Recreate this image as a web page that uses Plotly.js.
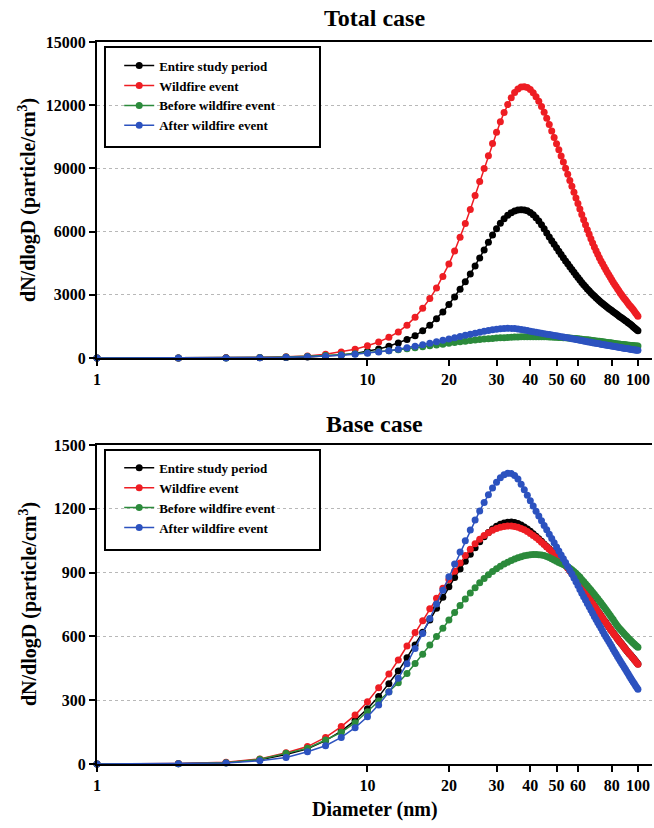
<!DOCTYPE html>
<html>
<head>
<meta charset="utf-8">
<script src="https://cdn.plot.ly/plotly-3.0.1.min.js"></script>
<style>html,body{margin:0;padding:0;background:#fff;}#chart{width:654px;height:828px;}</style>
</head>
<body>
<div id="chart"></div>
<script>
// Diameter (nm)
const diameter = [1,2,3,4,5,6,7,8,9,10,11,12,13,14,15,16,17,18,19,20,21,22,23,24,25,26,27,28,29,30,31,32,33,34,35,36,37,38,39,40,41,42,43,44,45,46,47,48,49,50,51,52,53,54,55,56,57,58,59,60,61,62,63,64,65,66,67,68,69,70,71,72,73,74,75,76,77,78,79,80,81,82,83,84,85,86,87,88,89,90,91,92,93,94,95,96,97,98,99,100];

const seriesNames = ["Entire study period", "Wildfire event", "Before wildfire event", "After wildfire event"];

// Total case
const totalEntire = [1,3,7,14,28,50,85,140,220,320,430,560,710,880,1060,1290,1560,1860,2190,2540,2900,3260,3620,3990,4370,4750,5130,5500,5840,6140,6400,6610,6780,6900,6980,7020,7040,7030,6990,6910,6800,6660,6500,6320,6130,5940,5750,5570,5400,5230,5070,4910,4760,4610,4470,4330,4200,4070,3940,3820,3700,3590,3480,3380,3280,3190,3100,3020,2940,2860,2790,2720,2650,2590,2530,2470,2410,2350,2300,2250,2200,2150,2100,2050,2000,1950,1910,1860,1820,1770,1730,1680,1640,1590,1540,1490,1440,1390,1340,1290];
const totalWildfire = [2,6,14,28,55,100,180,290,420,580,760,980,1240,1560,1940,2360,2820,3320,3870,4460,5080,5730,6390,7050,7710,8380,9000,9600,10180,10720,11210,11650,12030,12350,12600,12770,12860,12880,12840,12740,12590,12400,12190,11940,11670,11380,11080,10780,10470,10170,9880,9590,9300,9010,8720,8430,8150,7870,7600,7330,7070,6810,6560,6320,6090,5870,5660,5460,5270,5090,4920,4760,4610,4470,4330,4200,4070,3950,3830,3710,3600,3490,3390,3290,3190,3090,3000,2910,2830,2750,2670,2590,2510,2440,2370,2300,2220,2140,2060,1980];
const totalBefore = [0,1,6,23,52,76,116,153,200,253,305,350,393,439,487,531,577,617,657,697,733,767,799,828,854,878,898,917,932,946,958,968,977,986,993,999,1004,1008,1011,1014,1015,1015,1014,1012,1009,1005,1000,994,988,982,976,971,966,961,955,948,940,932,924,915,905,894,884,873,863,853,843,832,822,812,801,791,781,770,760,750,740,729,719,709,699,688,678,668,660,653,646,639,631,624,617,611,605,598,592,586,581,576,571,565];
const totalAfter = [0,1,5,15,32,60,89,129,176,228,286,348,415,486,559,632,704,774,841,906,968,1027,1081,1133,1181,1226,1267,1304,1337,1365,1386,1401,1408,1407,1398,1380,1355,1329,1302,1275,1249,1225,1201,1178,1156,1134,1112,1092,1071,1052,1032,1012,994,975,957,938,920,901,883,864,846,827,811,794,778,761,746,730,715,699,685,672,658,645,631,618,606,593,581,569,556,544,533,521,510,499,488,478,468,457,447,437,426,416,407,398,388,379,371,363];

// Base case
const baseEntire = [0,1,6,20,45,72,110,155,205,260,317,377,437,500,560,620,677,732,784,834,877,917,953,986,1017,1045,1069,1089,1105,1118,1127,1133,1137,1138,1136,1131,1124,1115,1105,1094,1083,1071,1059,1047,1035,1023,1012,1001,990,979,968,957,946,935,923,910,897,884,871,858,845,832,819,806,793,780,768,756,744,732,720,709,698,687,676,666,656,646,636,626,617,608,599,590,581,573,565,557,549,541,533,526,519,512,505,498,491,484,477,470];
const baseWildfire = [0,2,8,24,53,82,125,176,230,293,359,423,489,555,618,674,730,779,826,868,906,945,980,1010,1036,1057,1074,1088,1099,1107,1113,1117,1119,1119,1117,1113,1108,1101,1093,1084,1075,1065,1054,1043,1032,1021,1010,999,988,978,967,956,945,934,922,909,896,883,870,857,844,831,818,805,792,779,767,755,743,731,719,708,697,686,675,665,655,645,635,625,616,607,598,589,580,572,564,556,548,540,532,525,518,511,504,497,490,483,476,469];
const baseBefore = [0,1,6,22,50,74,113,149,194,246,296,340,382,426,473,516,560,599,638,677,712,745,776,804,829,852,872,890,905,918,930,940,949,957,964,970,975,979,982,984,985,985,984,983,980,976,971,965,959,953,948,943,938,933,927,920,913,905,897,888,879,868,858,848,838,828,818,808,798,788,778,768,758,748,738,728,718,708,698,688,679,668,658,649,641,634,627,620,613,606,599,593,587,581,575,569,564,559,554,549];
const baseAfter = [0,1,5,15,31,58,86,125,171,222,278,338,403,472,543,614,684,752,817,880,940,997,1050,1100,1147,1190,1230,1266,1298,1325,1346,1360,1367,1366,1357,1340,1316,1290,1264,1238,1213,1189,1166,1144,1122,1101,1080,1060,1040,1021,1002,983,965,947,929,911,893,875,857,839,821,803,787,771,755,739,724,709,694,679,665,652,639,626,613,600,588,576,564,552,540,528,517,506,495,484,474,464,454,444,434,424,414,404,395,386,377,368,360,352];

const xTickVals = [1,10,20,30,40,50,60,80,100];
const xTickText = ["1","10","20","30","40","50","60","80","100"];
const totalYTicks = [0,3000,6000,9000,12000,15000];
const totalYText = ["0","3000","6000","9000","12000","15000"];
const baseYTicks = [0,300,600,900,1200,1500];
const baseYText = ["0","300","600","900","1200","1500"];

const colors = ["#000000", "#ee1d23", "#2b8a3b", "#2c52bf"];
const FONT = "Liberation Serif, 'Times New Roman', serif";

function mk(y, i, xa, ya, lg) {
  return {
    x: diameter, y: y, xaxis: xa, yaxis: ya, legend: lg,
    type: "scatter", mode: "lines+markers", name: seriesNames[i],
    line: {color: colors[i], width: 1.5},
    marker: {color: colors[i], size: 7},
    cliponaxis: false
  };
}

const data = [
  mk(totalEntire, 0, "x", "y", "legend"),
  mk(totalWildfire, 1, "x", "y", "legend"),
  mk(totalBefore, 2, "x", "y", "legend"),
  mk(totalAfter, 3, "x", "y", "legend"),
  mk(baseEntire, 0, "x2", "y2", "legend2"),
  mk(baseWildfire, 1, "x2", "y2", "legend2"),
  mk(baseBefore, 2, "x2", "y2", "legend2"),
  mk(baseAfter, 3, "x2", "y2", "legend2")
];

const tickFont = {family: FONT, size: 16, color: "#000", weight: "bold"};
function xax(anchor) {
  return {
    anchor: anchor, type: "log", range: [0, 2.052],
    tickmode: "array", tickvals: xTickVals, ticktext: xTickText,
    ticks: "outside", ticklen: 6, tickwidth: 2, tickcolor: "#000",
    showline: true, linewidth: 2, linecolor: "#000", mirror: true,
    showgrid: false, zeroline: false, tickfont: tickFont
  };
}
function yax(anchor, domain, range, tv, tt) {
  return {
    anchor: anchor, domain: domain, range: range,
    tickmode: "array", tickvals: tv, ticktext: tt,
    ticks: "outside", ticklen: 6, tickwidth: 2, tickcolor: "#000",
    showline: true, linewidth: 2, linecolor: "#000",
    showgrid: true, gridcolor: "#b8b8b8", griddash: "dot", gridwidth: 1,
    zeroline: false, tickfont: tickFont
  };
}
const legFont = {family: FONT, size: 13, color: "#000", weight: "bold"};
const annFont = (s) => ({family: FONT, size: s, color: "#000", weight: "bold"});

const layout = {
  width: 654, height: 828,
  margin: {l: 97, r: 2, t: 42, b: 64},
  paper_bgcolor: "#fff", plot_bgcolor: "#fff",
  showlegend: true,
  xaxis: xax("y"),
  yaxis: yax("x", [0.5623, 1], [0, 15000], totalYTicks, totalYText),
  xaxis2: xax("y2"),
  yaxis2: yax("x2", [0, 0.4418], [0, 1500], baseYTicks, baseYText),
  legend: {x: 0.04, y: 0.988, xanchor: "left", yanchor: "top", bgcolor: "rgba(0,0,0,0)", borderwidth: 0, font: legFont, tracegroupgap: 0},
  legend2: {x: 0.04, y: 0.431, xanchor: "left", yanchor: "top", bgcolor: "rgba(0,0,0,0)", borderwidth: 0, font: legFont, tracegroupgap: 0},
  shapes: [
    {type: "rect", xref: "paper", yref: "paper", x0: 0.0144, x1: 0.4018, y0: 0.8546, y1: 0.9931, line: {color: "#000", width: 2}},
    {type: "rect", xref: "paper", yref: "paper", x0: 0.0144, x1: 0.4018, y0: 0.2964, y1: 0.4349, line: {color: "#000", width: 2}}
  ],
  annotations: [
    {text: "Total case", xref: "paper", yref: "paper", x: 0.5, y: 1.0332, xanchor: "center", yanchor: "middle", showarrow: false, font: annFont(24)},
    {text: "Base case", xref: "paper", yref: "paper", x: 0.5, y: 0.4709, xanchor: "center", yanchor: "middle", showarrow: false, font: annFont(24)},
    {text: "dN/dlogD (particle/cm<sup>3</sup>)", xref: "paper", yref: "paper", x: -0.1243, y: 0.7812, xanchor: "center", yanchor: "middle", textangle: -90, showarrow: false, font: annFont(20)},
    {text: "dN/dlogD (particle/cm<sup>3</sup>)", xref: "paper", yref: "paper", x: -0.1243, y: 0.2216, xanchor: "center", yanchor: "middle", textangle: -90, showarrow: false, font: annFont(20)},
    {text: "Diameter (nm)", xref: "paper", yref: "paper", x: 0.5, y: -0.0637, xanchor: "center", yanchor: "middle", showarrow: false, font: annFont(20)}
  ]
};

Plotly.newPlot("chart", data, layout, {displayModeBar: false, staticPlot: true});
</script>
</body>
</html>
